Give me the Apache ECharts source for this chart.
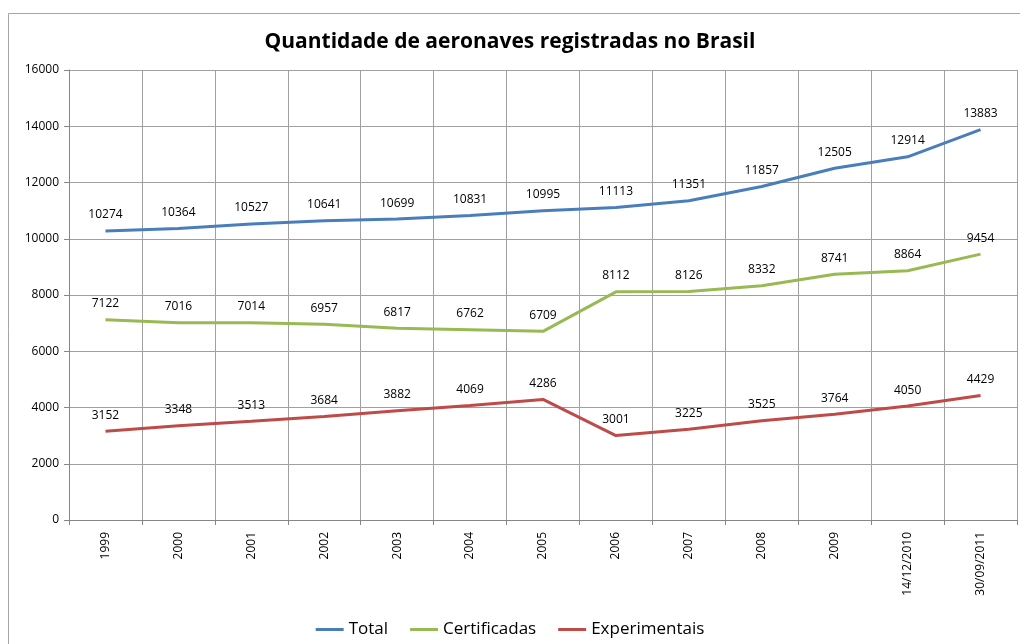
<!DOCTYPE html>
<html>
<head>
<meta charset="utf-8">
<script src="https://cdn.jsdelivr.net/npm/echarts@6/dist/echarts.min.js"></script>
<style>
  html, body { margin: 0; padding: 0; background: #fff; }
  #main { width: 1020px; height: 644px; }
</style>
</head>
<body>
<div id="main"></div>
<script>
var categories = ['1999', '2000', '2001', '2002', '2003', '2004', '2005', '2006', '2007', '2008', '2009', '14/12/2010', '30/09/2011'];
var total = [10274, 10364, 10527, 10641, 10699, 10831, 10995, 11113, 11351, 11857, 12505, 12914, 13883];
var certificadas = [7122, 7016, 7014, 6957, 6817, 6762, 6709, 8112, 8126, 8332, 8741, 8864, 9454];
var experimentais = [3152, 3348, 3513, 3684, 3882, 4069, 4286, 3001, 3225, 3525, 3764, 4050, 4429];

var font = '"Open Sans", "Liberation Sans", sans-serif';

function makeSeries(name, data, color) {
  return {
    name: name,
    type: 'line',
    data: data,
    symbol: 'circle',
    symbolSize: 0,
    showSymbol: true,
    lineStyle: { width: 3, color: color },
    itemStyle: { color: color },
    label: {
      show: true,
      position: 'top',
      distance: 10,
      color: '#000',
      fontSize: 12,
      fontFamily: font
    },
    labelLayout: { hideOverlap: false }
  };
}

var chart = echarts.init(document.getElementById('main'));
chart.setOption({
  animation: false,
  title: {
    text: 'Quantidade de aeronaves registradas no Brasil',
    left: 'center',
    top: 27,
    textStyle: { fontSize: 21, fontWeight: 'bold', color: '#000', fontFamily: font }
  },
  graphic: [{
    type: 'rect',
    shape: { x: 8.5, y: 13.5, width: 1040, height: 700 },
    style: { fill: 'none', stroke: '#a6a6a6', lineWidth: 1 },
    silent: true
  }],
  legend: {
    bottom: 1,
    left: 'center',
    icon: 'rect',
    itemWidth: 28,
    itemHeight: 3,
    itemGap: 22,
    textStyle: { fontSize: 17, color: '#000', fontFamily: font },
    data: ['Total', 'Certificadas', 'Experimentais']
  },
  grid: { left: 69, right: 3, top: 70, bottom: 124 },
  xAxis: {
    type: 'category',
    data: categories,
    boundaryGap: true,
    axisLine: { lineStyle: { color: '#868686' } },
    axisTick: { show: true, length: 5, lineStyle: { color: '#868686' } },
    splitLine: { show: true, lineStyle: { color: '#a0a0a0' } },
    axisLabel: { rotate: 90, margin: 12, fontSize: 12, color: '#000', fontFamily: font, interval: 0 }
  },
  yAxis: {
    type: 'value',
    min: 0,
    max: 16000,
    interval: 2000,
    axisLine: { show: true, lineStyle: { color: '#868686' } },
    axisTick: { show: true, length: 5, lineStyle: { color: '#868686' } },
    splitLine: { show: true, lineStyle: { color: '#a0a0a0' } },
    axisLabel: { margin: 10, fontSize: 12, color: '#000', fontFamily: font, formatter: function (v) { return String(v); } }
  },
  series: [
    makeSeries('Total', total, '#4a7ebb'),
    makeSeries('Certificadas', certificadas, '#98b954'),
    makeSeries('Experimentais', experimentais, '#be4b48')
  ]
});
</script>
</body>
</html>
